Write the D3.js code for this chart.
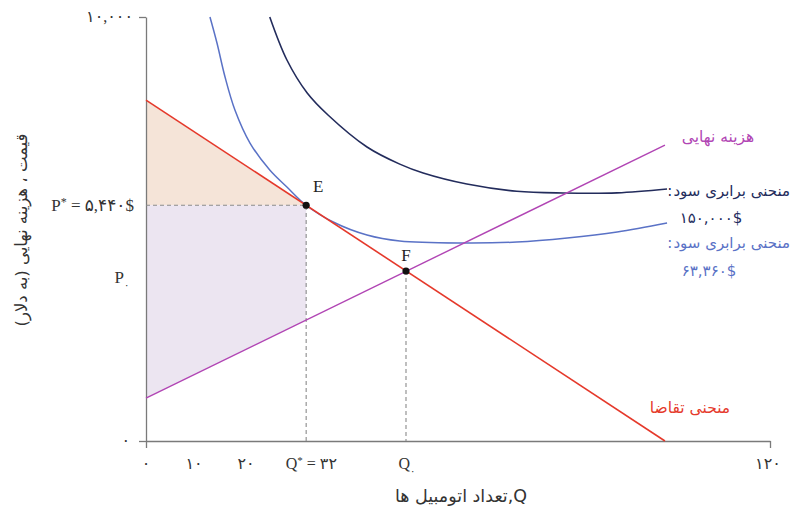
<!DOCTYPE html>
<html><head><meta charset="utf-8">
<script src="https://cdn.jsdelivr.net/npm/d3@7"></script>
<style>
html,body{margin:0;padding:0;background:#fff;}
svg text{font-family:"Liberation Serif","DejaVu Sans",serif;}
.fa{font-family:"DejaVu Sans","Noto Sans",sans-serif;}
</style></head>
<body>
<svg id="c" width="810" height="517"></svg>
<script>
// ---- data ----
const demand = [[0, 8040], [99.8, 0]];
const marginalCost = [[0, 1010], [99.8, 6980]];
const isoProfitLow = [[12.3,10000],[13.65,9387],[15.2,8585],[17.1,7807],[20.0,7028],[23.8,6392],
  [27.1,5991],[30.8,5560],[36.0,5165],[42.5,4858],[48.8,4717],[61.0,4670],[71.3,4693],
  [81.0,4788],[90.6,4929],[100.2,5142]];
const isoProfitHigh = [[23.8,10000],[27.1,8986],[31.0,8208],[35.0,7689],[42.5,6934],[48.8,6530],
  [53.3,6320],[61.7,6060],[71.3,5890],[80.2,5849],[90.6,5852],[100.2,5943]];
const pointE = {q: 30.8, p: 5560, label: "E"};
const pointF = {q: 50, p: 4010, label: "F"};
const xTickValues = [0, 10, 20];
const xTickLabels = ["۰", "۱۰", "۲۰"];
const yTickValues = [0, 10000];
const yTickLabels = ["۰", "۱۰,۰۰۰"];
const qStarLabelValue = 32;
const xMax = 120, yMax = 10000;

// ---- setup ----
const svg = d3.select("#c");
const x = d3.scaleLinear().domain([0, xMax]).range([146, 770]);
const y = d3.scaleLinear().domain([0, yMax]).range([441, 17]);
const line = d3.line().x(d => x(d[0])).y(d => y(d[1]));
const curve = d3.line().x(d => x(d[0])).y(d => y(d[1])).curve(d3.curveCatmullRom.alpha(0.5));
const mcAt = d3.scaleLinear().domain([marginalCost[0][0], marginalCost[1][0]]).range([marginalCost[0][1], marginalCost[1][1]]);

// shaded areas
svg.append("path")
  .attr("d", line([[0, demand[0][1]], [pointE.q, pointE.p], [0, pointE.p]]) + "Z")
  .attr("fill", "#f5e4d8");
svg.append("path")
  .attr("d", line([[0, pointE.p], [pointE.q, pointE.p], [pointE.q, mcAt(pointE.q)], [0, marginalCost[0][1]]]) + "Z")
  .attr("fill", "#ece5f1");

// axes
const axisColor = "#7a7a7a";
const gx = svg.append("g").attr("transform", `translate(0,${y(0)})`)
  .call(d3.axisBottom(x).tickValues([0, xMax]).tickSize(7).tickSizeOuter(0).tickFormat(""));
const gy = svg.append("g").attr("transform", `translate(${x(0)},0)`)
  .call(d3.axisLeft(y).tickValues(yTickValues).tickSize(7).tickSizeOuter(0).tickFormat(""));
[gx, gy].forEach(g => { g.selectAll("path,line").attr("stroke", axisColor).attr("stroke-width", 1.3); });

// dashed guides
const dash = "4,3";
svg.append("path").attr("d", line([[0, pointE.p], [pointE.q, pointE.p], [pointE.q, 0]]))
  .attr("fill", "none").attr("stroke", "#8a8a8a").attr("stroke-width", 1.1).attr("stroke-dasharray", dash);
svg.append("path").attr("d", line([[pointF.q, pointF.p], [pointF.q, 0]]))
  .attr("fill", "none").attr("stroke", "#8a8a8a").attr("stroke-width", 1.1).attr("stroke-dasharray", dash);

// curves
svg.append("path").attr("d", curve(isoProfitHigh)).attr("fill", "none").attr("stroke", "#232c5c").attr("stroke-width", 1.6);
svg.append("path").attr("d", curve(isoProfitLow)).attr("fill", "none").attr("stroke", "#5a72c6").attr("stroke-width", 1.5);
svg.append("path").attr("d", line(marginalCost)).attr("fill", "none").attr("stroke", "#b145b4").attr("stroke-width", 1.4);
svg.append("path").attr("d", line(demand)).attr("fill", "none").attr("stroke", "#e5392b").attr("stroke-width", 1.6);

// points
[pointE, pointF].forEach(pt => {
  svg.append("circle").attr("cx", x(pt.q)).attr("cy", y(pt.p)).attr("r", 3.6).attr("fill", "#111");
});
svg.append("text").attr("x", x(pointE.q) + 12).attr("y", y(pointE.p) - 13).attr("text-anchor", "middle")
  .attr("font-size", 17).attr("fill", "#222").text(pointE.label);
svg.append("text").attr("x", x(pointF.q)).attr("y", y(pointF.p) - 10).attr("text-anchor", "middle")
  .attr("font-size", 17).attr("fill", "#222").text(pointF.label);

// tick labels
const tickFs = 16;
xTickValues.forEach((v, i) => {
  svg.append("text").attr("x", x(v) - (i ? 4 : 0)).attr("y", 469).attr("text-anchor", "middle")
    .attr("font-size", tickFs).attr("fill", "#333").text(xTickLabels[i]);
});
svg.append("text").attr("x", x(xMax) - 2).attr("y", 469).attr("text-anchor", "middle")
  .attr("font-size", tickFs).attr("fill", "#333").text("۱۲۰");
// Q* label
const qs = svg.append("text").attr("x", x(qStarLabelValue) - 1).attr("y", 469).attr("text-anchor", "middle")
  .attr("font-size", tickFs).attr("fill", "#333");
qs.append("tspan").text("Q");
qs.append("tspan").attr("dy", -5).attr("font-size", 11).text("*");
qs.append("tspan").attr("dy", 5).text(" = ۳۲");
// Q0 label
const q0 = svg.append("text").attr("x", x(pointF.q) + 1).attr("y", 469).attr("text-anchor", "middle")
  .attr("font-size", tickFs).attr("fill", "#333");
q0.append("tspan").text("Q");
q0.append("tspan").attr("dy", 5).attr("font-size", 10).text("۰");

// y tick labels
svg.append("text").attr("x", 133).attr("y", y(yTickValues[1]) + 5).attr("text-anchor", "end")
  .attr("font-size", tickFs).attr("fill", "#333").text(yTickLabels[1]);
svg.append("text").attr("x", 130).attr("y", y(yTickValues[0]) + 5).attr("text-anchor", "end")
  .attr("font-size", tickFs).attr("fill", "#333").text(yTickLabels[0]);
const ps = svg.append("text").attr("x", 134).attr("y", y(pointE.p) + 6).attr("text-anchor", "end")
  .attr("font-size", 17).attr("fill", "#333");
ps.append("tspan").text("P");
ps.append("tspan").attr("dy", -5).attr("font-size", 12).text("*");
ps.append("tspan").attr("dy", 5).text(" = ۵,۴۴۰$");
const p0 = svg.append("text").attr("x", 122).attr("y", y(pointF.p) + 12).attr("text-anchor", "middle")
  .attr("font-size", 17).attr("fill", "#333");
p0.append("tspan").text("P");
p0.append("tspan").attr("dy", 5).attr("font-size", 10).text("۰");

// axis titles
svg.append("text").attr("class", "fa").attr("x", 461).attr("y", 502).attr("text-anchor", "middle")
  .attr("font-size", 17.5).attr("fill", "#333").text("تعداد اتومبیل ها,Q");
svg.append("text").attr("class", "fa").attr("transform", "translate(27,230) rotate(-90)").attr("text-anchor", "middle")
  .attr("font-size", 16.5).attr("fill", "#333").text("قیمت ، هزینه نهایی (به دلار)");

// curve labels
function rtlLabel(txt, right, yy, color, colon) {
  const t = svg.append("text").attr("class", "fa").attr("x", right).attr("y", yy).attr("text-anchor", "end")
    .attr("font-size", 15).attr("fill", color).text(txt);
  if (colon) {
    const w = t.node().getComputedTextLength();
    svg.append("text").attr("class", "fa").attr("x", right - w - 1).attr("y", yy).attr("text-anchor", "end")
      .attr("font-size", 15).attr("fill", color).text(":");
  }
}
svg.append("text").attr("class", "fa").attr("x", 718).attr("y", 142).attr("text-anchor", "middle")
  .attr("font-size", 15.5).attr("fill", "#b145b4").text("هزینه نهایی");
rtlLabel("منحنی برابری سود", 790, 196, "#232c5c", true);
svg.append("text").attr("class", "fa").attr("x", 711).attr("y", 223).attr("text-anchor", "middle")
  .attr("font-size", 15).attr("fill", "#232c5c").text("۱۵۰,۰۰۰$");
rtlLabel("منحنی برابری سود", 790, 248, "#5a72c6", true);
svg.append("text").attr("class", "fa").attr("x", 709).attr("y", 276).attr("text-anchor", "middle")
  .attr("font-size", 15).attr("fill", "#5a72c6").text("۶۳,۳۶۰$");
svg.append("text").attr("class", "fa").attr("x", 690).attr("y", 413).attr("text-anchor", "middle")
  .attr("font-size", 15.5).attr("fill", "#e5392b").text("منحنی تقاضا");
</script>
</body></html>
